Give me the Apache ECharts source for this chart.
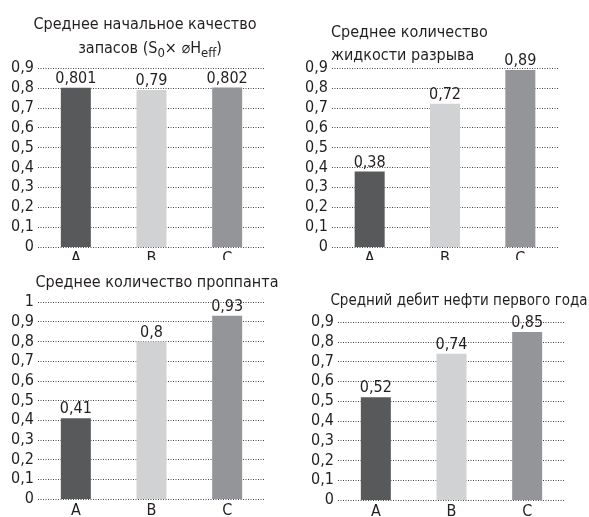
<!DOCTYPE html>
<html>
<head>
<meta charset="utf-8">
<script src="https://cdn.jsdelivr.net/npm/echarts@6/dist/echarts.min.js"></script>
<style>
  html, body { margin: 0; padding: 0; background: #fff; }
  .panel { position: absolute; overflow: hidden; }
</style>
</head>
<body>
<div id="p1" class="panel" style="left:0;top:0;width:295px;height:260px"></div>
<div id="p2" class="panel" style="left:295px;top:0;width:294px;height:260px"></div>
<div id="p3" class="panel" style="left:0;top:260px;width:295px;height:257px"></div>
<div id="p4" class="panel" style="left:295px;top:260px;width:294px;height:257px"></div>
<script>
// Well groups compared in each panel
const categories = ['A', 'B', 'C'];

// Relative indicators per group
const reserveQuality = [0.801, 0.79, 0.802];
const fracFluid = [0.38, 0.72, 0.89];
const proppant = [0.41, 0.8, 0.93];
const firstYearOil = [0.52, 0.74, 0.85];

// Axis maxima (step 0.1)
const axisMax1 = 0.9;
const axisMax2 = 0.9;
const axisMax3 = 1;
const axisMax4 = 0.9;

const barColors = ['#58595b', '#d1d2d4', '#939598'];
const FONT = '"Liberation Sans Narrow", "DejaVu Sans Condensed", sans-serif';
const TEXT = '#231f20';

function comma(v) {
  return String(v).replace('.', ',');
}

function makeOption(values, max, grid, titles) {
  return {
    animation: false,
    textStyle: { fontFamily: FONT },
    title: titles,
    grid: Object.assign({ outerBoundsMode: 'none', containLabel: false }, grid),
    xAxis: {
      type: 'category',
      data: categories,
      axisLine: { show: false },
      axisTick: { show: false },
      axisLabel: { color: TEXT, fontFamily: FONT, fontSize: 16, margin: 4 }
    },
    yAxis: {
      type: 'value',
      min: 0,
      max: max,
      interval: 0.1,
      axisLine: { show: false },
      axisTick: { show: false },
      axisLabel: {
        color: TEXT, fontFamily: FONT, fontSize: 16, margin: 4,
        formatter: function (v) { return comma(Math.round(v * 10) / 10); }
      },
      splitLine: { lineStyle: { color: '#444', width: 1, type: [1, 1.5] } }
    },
    series: [{
      type: 'bar',
      barWidth: 30,
      data: values.map(function (v, i) {
        return { value: v, itemStyle: { color: barColors[i] } };
      }),
      label: {
        show: true,
        position: 'top',
        distance: 1,
        color: TEXT,
        fontFamily: FONT,
        fontSize: 16,
        formatter: function (p) { return comma(p.value); }
      }
    }]
  };
}

const titleStyle = { color: TEXT, fontFamily: FONT, fontSize: 16, fontWeight: 'normal' };

const charts = [
  {
    id: 'p1', values: reserveQuality, max: axisMax1,
    grid: { left: 38, right: 30, top: 68, bottom: 13 },
    titles: [
      { text: 'Среднее начальное качество', left: 140, top: 12, textAlign: 'center', textStyle: titleStyle },
      {
        text: '{n|запасов (S}{s|0}{n|× ⌀H}{s|eff}{n|)}',
        left: 145, top: 32, textAlign: 'center',
        textStyle: Object.assign({}, titleStyle, {
          rich: {
            n: { fontFamily: FONT, fontSize: 16, color: TEXT },
            s: { fontFamily: FONT, fontSize: 13, color: TEXT, padding: [10, 0, 0, 0] }
          }
        })
      }
    ]
  },
  {
    id: 'p2', values: fracFluid, max: axisMax2,
    grid: { left: 37, right: 31, top: 68, bottom: 13 },
    titles: [
      { text: 'Среднее количество', left: 31, top: 20, textStyle: titleStyle },
      { text: 'жидкости разрыва', left: 31, top: 43, textStyle: titleStyle }
    ]
  },
  {
    id: 'p3', values: proppant, max: axisMax3,
    grid: { left: 38, right: 30, top: 42, bottom: 18 },
    titles: [
      { text: 'Среднее количество проппанта', left: 152, top: 10, textAlign: 'center', textStyle: titleStyle }
    ]
  },
  {
    id: 'p4', values: firstYearOil, max: axisMax4,
    grid: { left: 43, right: 24, top: 62, bottom: 17 },
    titles: [
      { text: 'Средний дебит нефти первого года', left: 159, top: 29, textAlign: 'center',
        textStyle: Object.assign({}, titleStyle, { fontSize: 15 }) }
    ]
  }
];

charts.forEach(function (c) {
  const chart = echarts.init(document.getElementById(c.id), null, { renderer: 'canvas' });
  chart.setOption(makeOption(c.values, c.max, c.grid, c.titles));
});
</script>
</body>
</html>
